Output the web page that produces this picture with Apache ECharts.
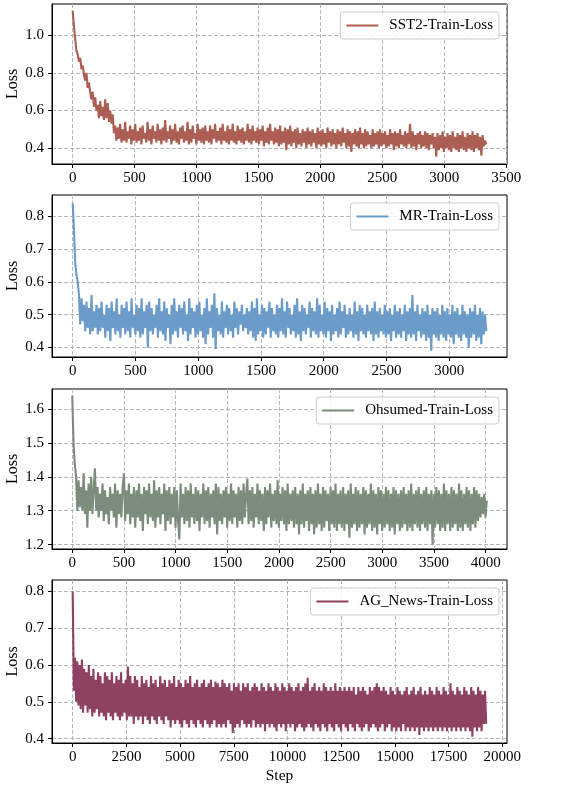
<!DOCTYPE html>
<html><head><meta charset="utf-8">
<script src="https://cdn.jsdelivr.net/npm/echarts@6/dist/echarts.min.js"></script>
<style>html,body{margin:0;padding:0;background:#fff}#c{width:569px;height:787px}</style>
</head><body><div id="c"></div><script>
// ---------------- DATA ----------------
const seriesNames = ['SST2-Train-Loss', 'MR-Train-Loss', 'Ohsumed-Train-Loss', 'AG_News-Train-Loss'];
const lastSteps = [3340, 3296, 4010, 19250];

const sst2Loss = [
1.13,1.05,0.98,0.92,0.90,0.86,0.88,0.82,0.84,0.79,
0.76,0.80,0.72,0.75,0.70,0.66,0.70,0.62,0.67,0.60,
0.63,0.56,0.65,0.57,0.62,0.55,0.66,0.56,0.64,0.54,
0.60,0.53,0.58,0.48,0.52,0.44,0.51,0.45,0.53,0.43,
0.50,0.44,0.54,0.43,0.49,0.45,0.52,0.42,0.50,0.44,
0.53,0.43,0.49,0.44,0.51,0.42,0.52,0.45,0.48,0.43,
0.54,0.44,0.50,0.42,0.52,0.45,0.49,0.43,0.53,0.44,
0.50,0.42,0.51,0.44,0.55,0.43,0.49,0.45,0.52,0.42,
0.50,0.44,0.53,0.43,0.49,0.42,0.51,0.45,0.52,0.43,
0.49,0.44,0.54,0.42,0.50,0.43,0.52,0.45,0.48,0.42,
0.53,0.44,0.50,0.43,0.51,0.42,0.52,0.44,0.49,0.43,
0.52,0.42,0.50,0.45,0.53,0.43,0.49,0.44,0.51,0.42,
0.53,0.44,0.49,0.43,0.52,0.42,0.50,0.44,0.53,0.43,
0.49,0.42,0.52,0.44,0.50,0.43,0.51,0.42,0.49,0.44,
0.53,0.43,0.50,0.42,0.52,0.44,0.49,0.43,0.51,0.42,
0.50,0.44,0.52,0.41,0.49,0.43,0.51,0.42,0.53,0.44,
0.49,0.42,0.51,0.43,0.50,0.41,0.52,0.42,0.49,0.43,
0.51,0.39,0.50,0.42,0.52,0.41,0.49,0.43,0.50,0.40,
0.51,0.42,0.48,0.41,0.50,0.43,0.49,0.40,0.51,0.42,
0.49,0.41,0.50,0.43,0.48,0.40,0.51,0.42,0.49,0.41,
0.50,0.42,0.48,0.40,0.51,0.43,0.49,0.41,0.50,0.42,
0.48,0.40,0.50,0.42,0.49,0.41,0.51,0.43,0.48,0.40,
0.50,0.41,0.49,0.38,0.48,0.42,0.50,0.41,0.49,0.40,
0.51,0.42,0.48,0.40,0.50,0.41,0.49,0.42,0.47,0.40,
0.50,0.41,0.48,0.42,0.49,0.40,0.50,0.41,0.48,0.42,
0.49,0.40,0.47,0.41,0.50,0.42,0.48,0.39,0.49,0.41,
0.48,0.40,0.50,0.42,0.47,0.41,0.49,0.40,0.48,0.42,
0.53,0.40,0.49,0.41,0.47,0.39,0.48,0.42,0.49,0.40,
0.47,0.41,0.49,0.40,0.48,0.39,0.47,0.42,0.48,0.40,
0.46,0.355,0.48,0.39,0.47,0.40,0.49,0.38,0.46,0.40,
0.48,0.39,0.47,0.38,0.49,0.40,0.46,0.39,0.48,0.38,
0.47,0.40,0.49,0.39,0.46,0.38,0.48,0.40,0.47,0.39,
0.49,0.38,0.47,0.40,0.48,0.39,0.46,0.36,0.47,0.41,
0.44,0.42
];

const mrLoss = [
0.84,0.76,0.66,0.62,0.60,0.56,0.47,0.55,0.48,0.53,
0.45,0.54,0.46,0.52,0.44,0.56,0.45,0.51,0.46,0.53,
0.44,0.52,0.45,0.54,0.46,0.50,0.43,0.53,0.45,0.52,
0.42,0.54,0.46,0.51,0.44,0.55,0.45,0.50,0.43,0.53,
0.46,0.52,0.44,0.54,0.45,0.51,0.43,0.55,0.46,0.50,
0.44,0.53,0.45,0.52,0.43,0.55,0.44,0.51,0.46,0.53,
0.40,0.54,0.45,0.52,0.44,0.50,0.46,0.53,0.43,0.55,
0.45,0.51,0.44,0.54,0.42,0.52,0.46,0.50,0.41,0.53,
0.44,0.55,0.45,0.51,0.43,0.53,0.46,0.52,0.44,0.54,
0.45,0.50,0.42,0.55,0.44,0.52,0.46,0.51,0.43,0.53,
0.44,0.54,0.45,0.50,0.43,0.52,0.41,0.55,0.44,0.51,
0.46,0.53,0.43,0.565,0.395,0.52,0.45,0.50,0.44,0.54,
0.43,0.51,0.46,0.53,0.44,0.52,0.45,0.50,0.43,0.54,
0.46,0.52,0.44,0.51,0.47,0.53,0.45,0.50,0.46,0.52,
0.44,0.51,0.45,0.54,0.43,0.52,0.42,0.55,0.44,0.50,
0.45,0.53,0.43,0.52,0.44,0.51,0.46,0.54,0.43,0.52,
0.45,0.50,0.44,0.53,0.43,0.52,0.45,0.55,0.44,0.51,
0.43,0.54,0.46,0.52,0.44,0.50,0.45,0.53,0.43,0.55,
0.44,0.51,0.42,0.53,0.45,0.52,0.44,0.50,0.46,0.54,
0.43,0.52,0.45,0.51,0.44,0.55,0.43,0.53,0.45,0.50,
0.44,0.54,0.43,0.52,0.45,0.51,0.42,0.53,0.44,0.50,
0.45,0.52,0.43,0.54,0.44,0.51,0.46,0.53,0.43,0.50,
0.44,0.52,0.45,0.50,0.43,0.54,0.44,0.51,0.42,0.53,
0.45,0.52,0.44,0.50,0.43,0.53,0.45,0.51,0.44,0.52,
0.42,0.54,0.44,0.51,0.43,0.52,0.45,0.50,0.44,0.53,
0.43,0.51,0.44,0.52,0.42,0.50,0.45,0.53,0.43,0.51,
0.44,0.52,0.43,0.50,0.45,0.53,0.42,0.51,0.44,0.52,
0.43,0.56,0.44,0.51,0.42,0.53,0.45,0.50,0.43,0.52,
0.44,0.51,0.42,0.53,0.43,0.50,0.39,0.52,0.44,0.51,
0.43,0.52,0.42,0.50,0.44,0.53,0.43,0.51,0.42,0.52,
0.44,0.50,0.43,0.53,0.41,0.51,0.44,0.52,0.43,0.50,
0.42,0.53,0.44,0.51,0.43,0.50,0.40,0.52,0.43,0.51,
0.44,0.53,0.42,0.50,0.43,0.52,0.41,0.51,0.44,0.50,
0.45
];

const ohsumedLoss = [
1.64,1.50,1.44,1.40,1.30,1.39,1.31,1.37,1.30,1.41,
1.29,1.36,1.25,1.38,1.30,1.40,1.29,1.36,1.425,1.30,
1.37,1.28,1.35,1.30,1.38,1.27,1.36,1.29,1.34,1.26,
1.37,1.30,1.35,1.28,1.38,1.25,1.36,1.29,1.35,1.28,
1.37,1.41,1.27,1.36,1.29,1.38,1.26,1.35,1.28,1.37,
1.25,1.36,1.28,1.38,1.27,1.35,1.24,1.37,1.29,1.36,
1.26,1.38,1.28,1.35,1.27,1.39,1.25,1.36,1.28,1.37,
1.26,1.35,1.29,1.38,1.24,1.36,1.27,1.37,1.26,1.35,
1.28,1.37,1.25,1.36,1.27,1.215,1.38,1.28,1.35,1.26,
1.37,1.27,1.36,1.25,1.38,1.28,1.35,1.26,1.37,1.27,
1.36,1.24,1.35,1.28,1.38,1.26,1.36,1.27,1.37,1.25,
1.35,1.28,1.36,1.26,1.38,1.23,1.37,1.27,1.35,1.26,
1.36,1.28,1.37,1.25,1.35,1.27,1.38,1.26,1.36,1.28,
1.35,1.25,1.37,1.27,1.36,1.26,1.38,1.28,1.35,1.395,
1.26,1.36,1.27,1.37,1.25,1.35,1.28,1.38,1.26,1.36,
1.27,1.35,1.24,1.37,1.26,1.36,1.28,1.38,1.25,1.35,
1.27,1.36,1.26,1.39,1.25,1.35,1.27,1.37,1.26,1.36,
1.24,1.38,1.26,1.35,1.27,1.36,1.25,1.37,1.26,1.35,
1.23,1.36,1.26,1.38,1.25,1.35,1.27,1.36,1.24,1.37,
1.26,1.35,1.23,1.36,1.25,1.38,1.26,1.35,1.24,1.37,
1.25,1.36,1.27,1.35,1.24,1.37,1.26,1.36,1.25,1.38,
1.24,1.35,1.26,1.36,1.25,1.37,1.24,1.35,1.26,1.36,
1.22,1.38,1.25,1.35,1.26,1.37,1.24,1.36,1.25,1.35,
1.26,1.37,1.23,1.36,1.25,1.35,1.26,1.38,1.24,1.36,
1.25,1.35,1.23,1.37,1.26,1.36,1.24,1.35,1.25,1.37,
1.26,1.36,1.24,1.35,1.25,1.37,1.23,1.36,1.26,1.35,
1.24,1.36,1.25,1.37,1.26,1.35,1.24,1.36,1.25,1.38,
1.24,1.35,1.26,1.36,1.25,1.37,1.24,1.35,1.26,1.36,
1.25,1.37,1.24,1.35,1.26,1.36,1.20,1.35,1.25,1.37,
1.26,1.36,1.24,1.35,1.25,1.38,1.24,1.36,1.26,1.35,
1.24,1.37,1.25,1.36,1.26,1.35,1.24,1.38,1.25,1.36,
1.24,1.35,1.26,1.37,1.25,1.36,1.24,1.35,1.26,1.37,
1.25,1.36,1.27,1.35,1.28,1.34,1.29,1.35,1.28,1.33
];

const agNewsLoss = [
0.80,0.53,0.62,0.50,0.61,0.49,0.60,0.48,0.615,0.47,
0.59,0.49,0.58,0.47,0.60,0.48,0.57,0.46,0.59,0.47,
0.56,0.48,0.58,0.46,0.57,0.47,0.55,0.46,0.58,0.45,
0.57,0.47,0.56,0.46,0.58,0.45,0.55,0.47,0.57,0.46,
0.56,0.45,0.58,0.46,0.55,0.47,0.56,0.45,0.595,0.46,
0.57,0.46,0.55,0.44,0.57,0.46,0.56,0.45,0.54,0.46,
0.57,0.44,0.55,0.46,0.56,0.45,0.54,0.44,0.57,0.46,
0.55,0.45,0.56,0.44,0.54,0.46,0.57,0.45,0.55,0.44,
0.56,0.46,0.54,0.45,0.56,0.43,0.55,0.45,0.57,0.44,
0.54,0.45,0.56,0.44,0.55,0.43,0.54,0.45,0.56,0.44,
0.55,0.43,0.57,0.45,0.54,0.44,0.55,0.43,0.56,0.45,
0.54,0.44,0.55,0.43,0.56,0.45,0.54,0.44,0.55,0.43,
0.56,0.44,0.54,0.45,0.555,0.43,0.55,0.44,0.54,0.43,
0.56,0.44,0.55,0.43,0.54,0.45,0.55,0.44,0.53,0.415,
0.55,0.43,0.54,0.44,0.55,0.43,0.53,0.45,0.55,0.44,
0.54,0.43,0.55,0.44,0.53,0.43,0.54,0.45,0.55,0.43,
0.54,0.44,0.53,0.43,0.55,0.44,0.54,0.42,0.53,0.44,
0.55,0.43,0.54,0.44,0.53,0.43,0.55,0.42,0.54,0.44,
0.53,0.43,0.55,0.44,0.54,0.42,0.53,0.44,0.55,0.43,
0.54,0.44,0.53,0.42,0.54,0.43,0.55,0.44,0.53,0.43,
0.54,0.42,0.55,0.43,0.565,0.44,0.53,0.43,0.54,0.42,
0.55,0.44,0.53,0.43,0.54,0.42,0.53,0.44,0.55,0.43,
0.54,0.42,0.53,0.44,0.54,0.43,0.53,0.42,0.55,0.44,
0.53,0.43,0.54,0.42,0.53,0.44,0.54,0.43,0.53,0.42,
0.54,0.44,0.53,0.43,0.54,0.42,0.52,0.44,0.54,0.43,
0.53,0.42,0.54,0.43,0.53,0.44,0.52,0.42,0.54,0.43,
0.53,0.44,0.54,0.43,0.55,0.42,0.54,0.43,0.53,0.44,
0.54,0.42,0.53,0.43,0.52,0.44,0.54,0.42,0.53,0.43,
0.52,0.42,0.54,0.43,0.53,0.42,0.52,0.44,0.53,0.42,
0.54,0.43,0.52,0.42,0.53,0.43,0.54,0.42,0.52,0.43,
0.53,0.41,0.54,0.43,0.52,0.42,0.53,0.43,0.52,0.42,
0.54,0.43,0.53,0.42,0.52,0.43,0.54,0.42,0.53,0.43,
0.52,0.42,0.54,0.43,0.53,0.42,0.52,0.43,0.55,0.42,
0.53,0.43,0.52,0.42,0.54,0.43,0.53,0.42,0.52,0.43,
0.54,0.42,0.53,0.43,0.52,0.42,0.54,0.405,0.53,0.43,
0.52,0.42,0.54,0.43,0.53,0.42,0.52,0.44,0.53,0.44
];

const sst2XTicks = [0,500,1000,1500,2000,2500,3000,3500];
const mrXTicks = [0,500,1000,1500,2000,2500,3000];
const ohsumedXTicks = [0,500,1000,1500,2000,2500,3000,3500,4000];
const agNewsXTicks = [0,2500,5000,7500,10000,12500,15000,17500,20000];
const sst2YTicks = [0.4,0.6,0.8,1.0];
const mrYTicks = [0.4,0.5,0.6,0.7,0.8];
const ohsumedYTicks = [1.2,1.3,1.4,1.5,1.6];
const agNewsYTicks = [0.4,0.5,0.6,0.7,0.8];

const xAxisTitle = 'Step';
const yAxisTitle = 'Loss';

// ---------------- LAYOUT / STYLE ----------------
const lossArrays = [sst2Loss, mrLoss, ohsumedLoss, agNewsLoss];
const xTickArrays = [sst2XTicks, mrXTicks, ohsumedXTicks, agNewsXTicks];
const yTickArrays = [sst2YTicks, mrYTicks, ohsumedYTicks, agNewsYTicks];
const colors = ['#ad5e53', '#6b9bc9', '#7b8c7b', '#8e4161'];
const panels = [
  {top: 4,   height: 160, xr: [-167, 3507], yr: [0.316, 1.166]},
  {top: 195, height: 162, xr: [-165, 3461], yr: [0.371, 0.865]},
  {top: 389, height: 160, xr: [-196, 4206], yr: [1.187, 1.659]},
  {top: 580, height: 163, xr: [-963, 20219], yr: [0.388, 0.831]}
];
const FONT = '"Liberation Serif", "Times New Roman", serif';
const gridLine = {show: true, lineStyle: {color: '#b8b8b8', width: 1, type: [4, 2]}};

const grids = [], xAxes = [], yAxes = [], series = [], legends = [];
panels.forEach((p, k) => {
  grids.push({left: 52, width: 455, top: p.top, height: p.height, show: true,
    borderColor: '#000', borderWidth: 1, backgroundColor: 'transparent', outerBoundsMode: 'none'});
  xAxes.push({type: 'value', gridIndex: k, min: p.xr[0], max: p.xr[1],
    axisLine: {show: true, onZero: false, lineStyle: {color: '#000', width: 1}},
    axisTick: {show: true, length: 4, lineStyle: {color: '#000'}, customValues: xTickArrays[k]},
    axisLabel: {customValues: xTickArrays[k], color: '#000', fontFamily: FONT, fontSize: 15, margin: 7,
      formatter: v => String(v)},
    splitLine: gridLine,
    name: k === 3 ? xAxisTitle : '', nameLocation: 'middle', nameGap: 25, nameMoveOverlap: false,
    nameTextStyle: {color: '#000', fontFamily: FONT, fontSize: 15.5}
  });
  yAxes.push({type: 'value', gridIndex: k, min: p.yr[0], max: p.yr[1],
    axisLine: {show: true, onZero: false, lineStyle: {color: '#000', width: 1}},
    axisTick: {show: true, length: 4, lineStyle: {color: '#000'}, customValues: yTickArrays[k]},
    axisLabel: {customValues: yTickArrays[k], color: '#000', fontFamily: FONT, fontSize: 15, margin: 8,
      formatter: v => v.toFixed(1)},
    splitLine: gridLine,
    name: yAxisTitle, nameLocation: 'middle', nameGap: 31, nameRotate: 90, nameMoveOverlap: false,
    nameTextStyle: {color: '#000', fontFamily: FONT, fontSize: 16}
  });
  const arr = lossArrays[k];
  const last = lastSteps[k];
  series.push({type: 'line', name: seriesNames[k], xAxisIndex: k, yAxisIndex: k,
    data: arr.map((v, i) => [Math.round(i * last / (arr.length - 1)), v]),
    showSymbol: false, symbol: 'none', sampling: null, lineStyle: {color: colors[k], width: 2.1},
    itemStyle: {color: colors[k]}, animation: false, silent: true});
  legends.push({data: [seriesNames[k]], right: 70, top: p.top + 8, orient: 'vertical',
    icon: 'rect', itemWidth: 32, itemHeight: 2, itemGap: 0,
    padding: [6, 6, 6, 6], backgroundColor: 'rgba(255,255,255,0.85)',
    borderColor: '#cccccc', borderWidth: 1, borderRadius: 3,
    textStyle: {color: '#000', fontFamily: FONT, fontSize: 15, padding: [0, 0, 0, 6]},
    selectedMode: false});
});

const chart = echarts.init(document.getElementById('c'), null, {renderer: 'canvas'});
chart.setOption({animation: false, grid: grids, xAxis: xAxes, yAxis: yAxes, series: series, legend: legends});
</script></body></html>
